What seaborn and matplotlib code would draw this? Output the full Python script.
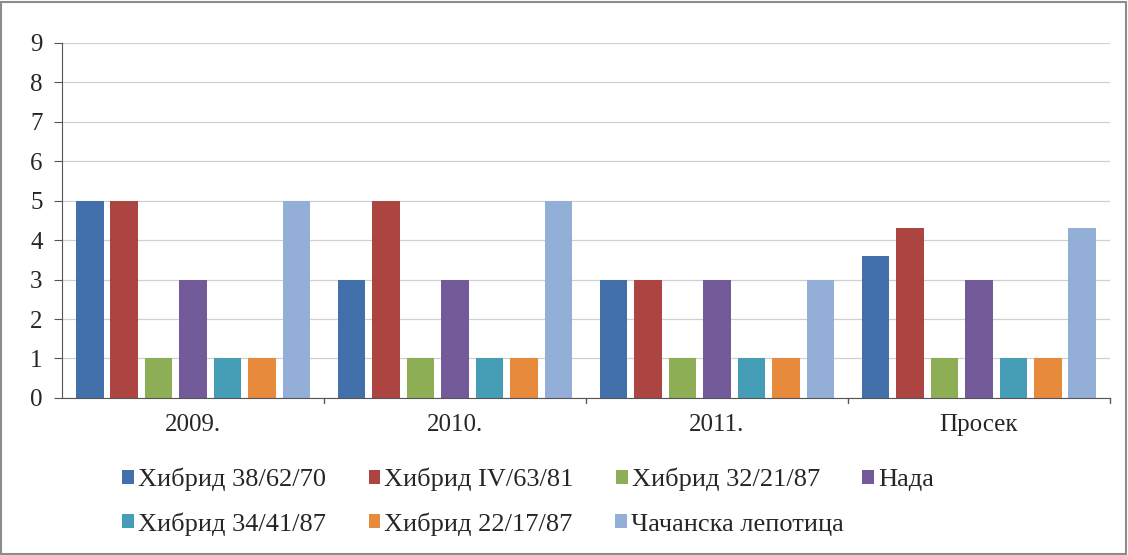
import pandas as pd
import matplotlib.pyplot as plt
import seaborn as sns
from matplotlib.patches import Rectangle

# categories and series
years = ["2009.", "2010.", "2011.", "Просек"]
hybrids = ["Хибрид 38/62/70", "Хибрид IV/63/81", "Хибрид 32/21/87", "Нада",
           "Хибрид 34/41/87", "Хибрид 22/17/87", "Чачанска лепотица"]
h_38_62_70 = [5, 3, 3, 3.6]
h_iv_63_81 = [5, 5, 3, 4.3]
h_32_21_87 = [1, 1, 1, 1]
nada = [3, 3, 3, 3]
h_34_41_87 = [1, 1, 1, 1]
h_22_17_87 = [1, 1, 1, 1]
cacanska = [5, 5, 3, 4.3]

colors = ["#4270AB", "#AC4441", "#8DAE55", "#735A98", "#459EB6", "#E88A3C", "#94AFD7"]

series = [h_38_62_70, h_iv_63_81, h_32_21_87, nada, h_34_41_87, h_22_17_87, cacanska]
rows = []
for name, vals in zip(hybrids, series):
    for yr, v in zip(years, vals):
        rows.append({"year": yr, "hybrid": name, "value": v})
df = pd.DataFrame(rows)

sns.set_style("white")
serif = ['Liberation Serif', 'DejaVu Serif']
plt.rcParams['font.family'] = serif

fig = plt.figure(figsize=(11.28, 5.55), dpi=100)
ax = fig.add_axes([0.055, 0.283, 0.929, 0.64])

sns.barplot(data=df, x="year", y="value", hue="hybrid", hue_order=hybrids,
            palette=colors, width=0.92, gap=0.2, saturation=1, linewidth=0, ax=ax)

ax.set_ylim(0, 9)
ax.set_yticks(range(0, 10))
ax.set_xlim(-0.5, 3.5)
ax.yaxis.grid(True, color="#D0D0D0", linewidth=0.9)
ax.set_axisbelow(True)
ax.set_xlabel("")
ax.set_ylabel("")
for s in ["top", "right"]:
    ax.spines[s].set_visible(False)
ax.spines["left"].set_color("#555555")
ax.spines["bottom"].set_color("#555555")
ax.tick_params(axis="y", left=True, length=6, color="#555555", labelsize=18, pad=8)
ax.tick_params(axis="x", bottom=False, labelsize=18, pad=8)
# category boundary ticks
for b in [0.5, 1.5, 2.5, 3.5]:
    ax.plot([b, b], [0, -0.12], color="#555555", lw=1, clip_on=False)

# legend in two rows, each its own legend so columns follow the labels
handles, labels = ax.get_legend_handles_labels()
leg_kw = dict(loc="upper left", frameon=False, prop={"family": serif, "size": 19},
              handlelength=0.45, handleheight=0.45, handletextpad=0.15,
              columnspacing=1.6)
leg1 = ax.legend(handles[:4], labels[:4], ncol=4, bbox_to_anchor=(0.035, -0.13), **leg_kw)
ax.add_artist(leg1)
ax.legend(handles[4:], labels[4:], ncol=3, bbox_to_anchor=(0.035, -0.255), **leg_kw)

fig.patches.append(Rectangle((0.001, 0.002), 0.997, 0.995, transform=fig.transFigure,
                             fill=False, edgecolor="#8C8C8C", linewidth=1.5))

fig.savefig("out.png", dpi=100)
